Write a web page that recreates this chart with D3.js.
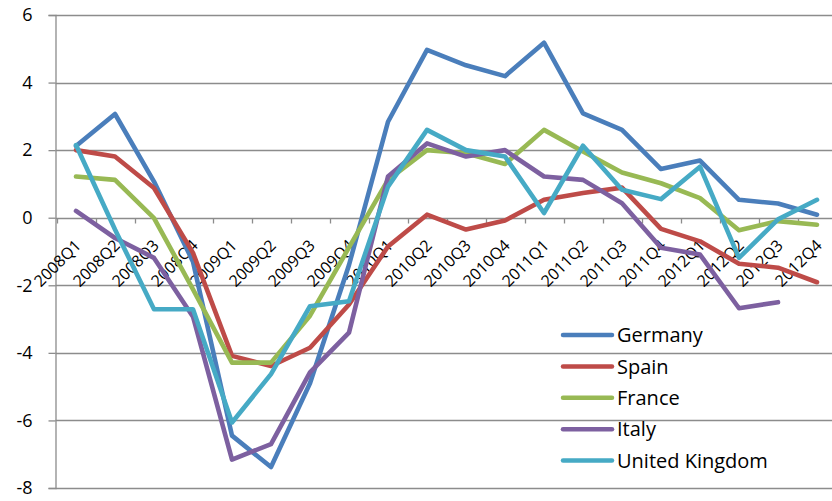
<!DOCTYPE html>
<html lang="en">
<head>
    <meta charset="UTF-8">
    <title>GDP growth</title>
    <script src="https://cdn.jsdelivr.net/npm/d3@7"></script>
    <style>
        body { margin: 0; background: #fff; }
        svg { display: block; font-family: "Open Sans", sans-serif; }
        .grid line { stroke: #8c8c8c; stroke-width: 1.3; }
        .series path { fill: none; stroke-width: 4.6; stroke-linejoin: round; stroke-linecap: round; }
    </style>
</head>
<body>
<svg width="832" height="501"></svg>

<script>
    var quarters = ["2008Q1", "2008Q2", "2008Q3", "2008Q4",
        "2009Q1", "2009Q2", "2009Q3", "2009Q4",
        "2010Q1", "2010Q2", "2010Q3", "2010Q4",
        "2011Q1", "2011Q2", "2011Q3", "2011Q4",
        "2012Q1", "2012Q2", "2012Q3", "2012Q4"];

    var germany = [2.12, 3.07, 1.07, -1.3, -6.45, -7.38, -4.9, -1.4, 2.84, 4.97, 4.51, 4.19, 5.18, 3.09, 2.6, 1.44, 1.69, 0.53, 0.42, 0.09];
    var spain = [2.0, 1.81, 0.88, -1.04, -4.09, -4.39, -3.85, -2.57, -0.85, 0.09, -0.35, -0.08, 0.53, 0.73, 0.89, -0.33, -0.7, -1.36, -1.48, -1.91];
    var france = [1.22, 1.12, -0.01, -2.12, -4.29, -4.29, -2.9, -0.88, 1.12, 2.0, 1.91, 1.59, 2.6, 1.96, 1.34, 1.02, 0.58, -0.37, -0.1, -0.21];
    var italy = [0.2, -0.6, -1.19, -2.93, -7.16, -6.7, -4.58, -3.4, 1.22, 2.2, 1.81, 2.0, 1.22, 1.12, 0.43, -0.89, -1.09, -2.68, -2.5, null];
    var uk = [2.15, -0.35, -2.71, -2.71, -6.06, -4.63, -2.62, -2.47, 0.92, 2.6, 2.0, 1.81, 0.14, 2.13, 0.83, 0.55, 1.51, -1.19, -0.05, 0.53];

    var seriesNames = ["Germany", "Spain", "France", "Italy", "United Kingdom"];
    var seriesColors = ["#4a7ebb", "#be4b48", "#98b954", "#7d60a0", "#46aac5"];
    var yTicks = [-8, -6, -4, -2, 0, 2, 4, 6];

    var seriesData = [germany, spain, france, italy, uk];

    var svg = d3.select("svg"),
        width = +svg.attr("width"),
        height = +svg.attr("height");

    var plotLeft = 55.5;

    var x = d3.scaleBand()
        .domain(quarters)
        .range([56.5, 836.5]);

    var y = d3.scaleLinear()
        .domain([-8, 6])
        .range([488, 15]);

    function cx(q) {
        return x(q) + x.bandwidth() / 2;
    }

    // horizontal gridlines
    svg.append("g")
        .attr("class", "grid")
        .selectAll("line")
        .data(yTicks)
        .enter()
        .append("line")
        .attr("x1", plotLeft)
        .attr("x2", width)
        .attr("y1", function (d) { return Math.round(y(d)) + 0.5; })
        .attr("y2", function (d) { return Math.round(y(d)) + 0.5; });

    // y axis (plain hyphen for negatives, like the original)
    var yAxis = svg.append("g")
        .attr("transform", "translate(" + plotLeft + ",0)")
        .call(d3.axisLeft(y).tickValues(yTicks).tickSize(7).tickFormat(function (d) { return String(d); }));
    yAxis.select(".domain").attr("stroke", "#8c8c8c").attr("stroke-width", 1.3);
    yAxis.selectAll(".tick line").attr("stroke", "#8c8c8c").attr("stroke-width", 1.3);
    yAxis.selectAll(".tick text")
        .attr("fill", "#000")
        .style("font-size", "18px")
        .style("font-family", "'Open Sans', sans-serif")
        .attr("x", -23);

    // category ticks on the zero line
    var zeroY = Math.round(y(0)) + 0.5;
    var tickEdges = quarters.map(function (q) { return x(q); }).concat([x.range()[1]]);
    svg.append("g")
        .selectAll("line")
        .data(tickEdges)
        .enter()
        .append("line")
        .attr("x1", function (d) { return Math.round(d) + 0.5; })
        .attr("x2", function (d) { return Math.round(d) + 0.5; })
        .attr("y1", zeroY)
        .attr("y2", zeroY + 5)
        .attr("stroke", "#8c8c8c")
        .attr("stroke-width", 1.3);

    // rotated category labels
    svg.append("g")
        .selectAll("text")
        .data(quarters)
        .enter()
        .append("text")
        .attr("transform", function (d) {
            return "translate(" + (cx(d) + 6) + ",246.5) rotate(-45)";
        })
        .attr("text-anchor", "end")
        .style("font-size", "16px")
        .text(function (d) { return d; });

    // series lines
    var line = d3.line()
        .defined(function (d) { return d.v !== null; })
        .x(function (d) { return cx(d.q); })
        .y(function (d) { return y(d.v); });

    svg.append("g")
        .attr("class", "series")
        .selectAll("path")
        .data(seriesData)
        .enter()
        .append("path")
        .attr("stroke", function (d, i) { return seriesColors[i]; })
        .attr("d", function (vals) {
            return line(vals.map(function (v, i) { return {q: quarters[i], v: v}; }));
        });

    // legend
    var legend = svg.append("g")
        .selectAll("g")
        .data(seriesNames)
        .enter()
        .append("g")
        .attr("transform", function (d, i) { return "translate(563," + (335 + i * 31.4) + ")"; });

    legend.append("line")
        .attr("x1", 0)
        .attr("x2", 49)
        .attr("stroke", function (d, i) { return seriesColors[i]; })
        .attr("stroke-width", 4.5)
        .attr("stroke-linecap", "round");

    legend.append("text")
        .attr("x", 54)
        .attr("dy", "0.36em")
        .style("font-size", "20px")
        .text(function (d) { return d; });
</script>
</body>
</html>
